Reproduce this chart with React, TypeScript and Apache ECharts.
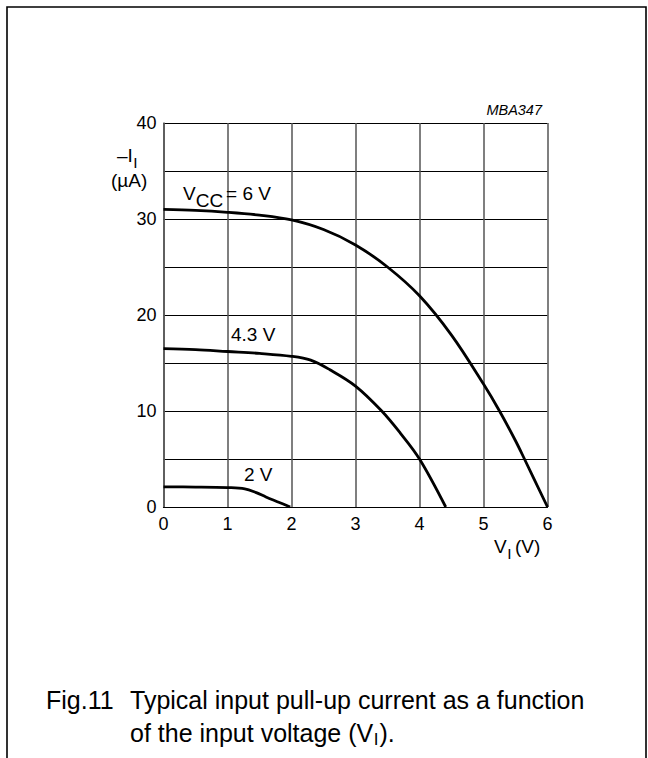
import React, { useEffect, useRef } from 'react';
import * as echarts from 'echarts';

// Axis ranges / ticks
const xMin = 0;
const xMax = 6;
const xStep = 1;
const yMin = 0;
const yMax = 40;
const yStep = 5;
const yLabelStep = 10;

// Curves: [V_I (V), -I_I (µA)]
const curve6V: [number, number][] = [
  [0, 31.0], [0.5, 30.9], [1, 30.7], [1.5, 30.4], [2, 29.9], [2.5, 28.9],
  [3, 27.3], [3.5, 25.0], [4, 22.0], [4.5, 17.9], [5, 12.8], [5.25, 10.0],
  [5.5, 6.9], [5.64, 5.0], [6, 0],
];
const curve43V: [number, number][] = [
  [0, 16.5], [0.5, 16.4], [1, 16.2], [1.5, 16.0], [2, 15.7], [2.3, 15.3],
  [2.6, 14.3], [3, 12.6], [3.41, 10.0], [3.7, 7.7], [4, 5.0], [4.41, 0],
];
const curve2V: [number, number][] = [
  [0, 2.1], [0.5, 2.08], [1, 2.02], [1.27, 1.9], [1.45, 1.5], [1.6, 1.05],
  [1.8, 0.5], [1.98, 0],
];

const FONT = 'Liberation Sans, Arial, Helvetica, sans-serif';

function measure(text: string, size: number, style = 'normal'): number {
  const c = document.createElement('canvas').getContext('2d');
  if (!c) return text.length * size * 0.5;
  c.font = `${style} ${size}px ${FONT}`;
  return c.measureText(text).width;
}

export default function App() {
  const ref = useRef<HTMLDivElement>(null);

  useEffect(() => {
    if (!ref.current) return;
    const chart = echarts.init(ref.current, undefined, { renderer: 'svg' });

    const txt = (text: string, x: number, y: number, size: number, extra: any = {}) => ({
      type: 'text',
      x,
      y,
      style: {
        text,
        fontSize: size,
        fontFamily: FONT,
        fill: '#000',
        verticalAlign: 'middle',
        align: 'left',
        ...extra,
      },
      z: 10,
    });

    const lbl = 19;
    const subS = 15.5;

    // caption pieces
    const capSize = 25;
    const capSub = 17;
    const capL1a = 'Fig.11';
    const capL1b = 'Typical input pull-up current as a function';
    const capL2a = 'of the input voltage (V';
    const capL2sub = 'I';
    const capL2c = ').';
    const capX = 130;
    const cap2W = measure(capL2a, capSize);
    const subW = measure(capL2sub, capSub);

    const vW = measure('V', lbl);
    const ccW = measure('CC', lbl);
    const mW = measure('\u2013I', lbl);
    const iSubW = measure('I', subS);

    const seriesStyle = {
      type: 'line' as const,
      showSymbol: false,
      symbol: 'none',
      smooth: 0.35,
      lineStyle: { color: '#000', width: 2.8 },
      silent: true,
    };

    chart.setOption({
      animation: false,
      backgroundColor: '#fff',
      grid: {
        left: 163.5,
        top: 123,
        width: 384,
        height: 384,
        outerBoundsMode: 'none',
      },
      xAxis: {
        type: 'value',
        min: xMin,
        max: xMax,
        interval: xStep,
        axisLine: { show: true, lineStyle: { color: '#000', width: 1.2 } },
        axisTick: { show: false },
        axisLabel: { color: '#000', fontSize: 18, fontFamily: FONT, margin: 8 },
        splitLine: { show: true, lineStyle: { color: '#555', width: 1.5 } },
      },
      yAxis: {
        type: 'value',
        min: yMin,
        max: yMax,
        interval: yStep,
        axisLine: { show: true, lineStyle: { color: '#555', width: 1.5 } },
        axisTick: { show: false },
        axisLabel: {
          color: '#000',
          fontSize: 18,
          fontFamily: FONT,
          margin: 7,
          formatter: (v: number) => (v % yLabelStep === 0 ? String(v) : ''),
        },
        splitLine: { show: true, lineStyle: { color: '#000', width: 1.2 } },
      },
      series: [
        { ...seriesStyle, name: '6 V', data: curve6V },
        { ...seriesStyle, name: '4.3 V', data: curve43V },
        { ...seriesStyle, name: '2 V', data: curve2V },
      ],
      graphic: [
        {
          type: 'rect',
          shape: { x: 7, y: 7, width: 639, height: 800 },
          style: { fill: 'none', stroke: '#000', lineWidth: 1.6 },
          z: 0,
          silent: true,
        },
        // MBA347
        txt('MBA347', 542, 110, 14.5, { align: 'right', fontStyle: 'italic' }),
        // y-axis title
        txt('\u2013I', 117, 155, lbl),
        txt('I', 117 + mW + 0.5, 162, subS),
        txt('(\u00b5A)', 111, 180, lbl),
        // x-axis title
        txt('V', 494, 546, lbl),
        txt('I', 494 + vW + 0.5, 553, subS),
        txt('(V)', 494 + vW + iSubW + 4, 546, lbl),
        // curve labels
        txt('V', 183, 193, lbl),
        txt('CC', 183 + vW, 200, lbl),
        txt('= 6 V', 183 + vW + ccW + 3, 193, lbl),
        txt('4.3 V', 231, 334, lbl),
        txt('2 V', 244, 474, lbl),
        // caption
        txt(capL1a, 46, 700, capSize),
        txt(capL1b, capX, 700, capSize),
        txt(capL2a, capX, 733, capSize),
        txt(capL2sub, capX + cap2W + 0.5, 739, capSub),
        txt(capL2c, capX + cap2W + subW + 1.5, 733, capSize),
      ],
    });

    return () => chart.dispose();
  }, []);

  return (
    <div
      ref={ref}
      style={{ position: 'fixed', left: 0, top: 0, width: 648, height: 758, background: '#fff' }}
    />
  );
}
